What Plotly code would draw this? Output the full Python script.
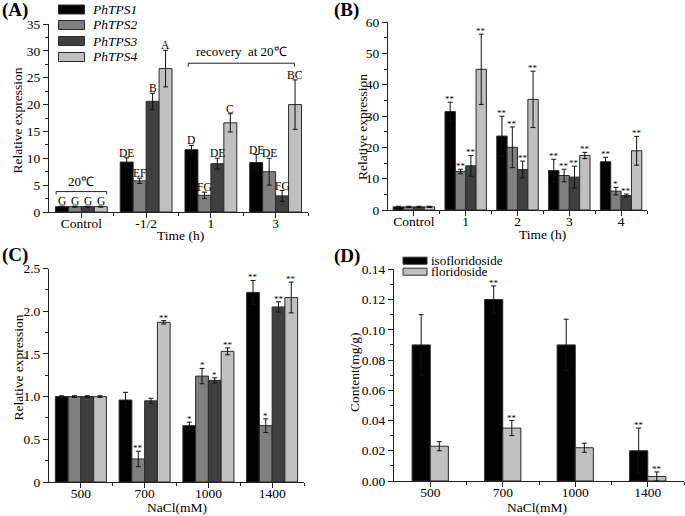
import plotly.graph_objects as go

W, H = 685, 516
FONT = "Liberation Serif, Times New Roman, serif"

# ---------------- data ----------------
genes = ["PhTPS1", "PhTPS2", "PhTPS3", "PhTPS4"]
gene_colors = ["#000000", "#7f7f7f", "#3f3f3f", "#c0c0c0"]

# Panel A
A_cats = ["Control", "-1/2", "1", "3"]
A_TPS1 = [1.0, 9.3, 11.6, 9.2]
A_TPS2 = [1.0, 5.8, 3.1, 7.5]
A_TPS3 = [1.0, 20.6, 9.0, 3.0]
A_TPS4 = [1.0, 26.7, 16.6, 20.0]
A_TPS1_err = [0.1, 0.8, 0.8, 1.5]
A_TPS2_err = [0.1, 0.5, 0.6, 2.5]
A_TPS3_err = [0.1, 1.5, 1.0, 1.0]
A_TPS4_err = [0.1, 3.4, 1.7, 4.6]
A_TPS1_lbl = ["G", "DE", "D", "DE"]
A_TPS2_lbl = ["G", "EF", "FG", "DE"]
A_TPS3_lbl = ["G", "B", "DE", "FG"]
A_TPS4_lbl = ["G", "A", "C", "BC"]

# Panel B
B_cats = ["Control", "1", "2", "3", "4"]
B_TPS1 = [1.0, 31.4, 23.6, 12.6, 15.4]
B_TPS2 = [1.0, 12.3, 20.0, 11.0, 6.0]
B_TPS3 = [1.0, 14.1, 12.9, 10.5, 4.6]
B_TPS4 = [1.0, 44.9, 35.3, 17.4, 18.9]
B_TPS1_err = [0.2, 3.0, 6.3, 3.6, 1.4]
B_TPS2_err = [0.2, 0.7, 6.5, 2.0, 1.2]
B_TPS3_err = [0.2, 3.3, 2.7, 3.5, 0.5]
B_TPS4_err = [0.2, 11.2, 9.0, 1.0, 4.6]
B_TPS1_sig = ["", "**", "**", "**", "**"]
B_TPS2_sig = ["", "**", "**", "**", "*"]
B_TPS3_sig = ["", "**", "**", "**", "**"]
B_TPS4_sig = ["", "**", "**", "**", "**"]

# Panel C
C_cats = ["500", "700", "1000", "1400"]
C_TPS1 = [1.0, 0.96, 0.66, 2.22]
C_TPS2 = [1.0, 0.27, 1.24, 0.66]
C_TPS3 = [1.0, 0.95, 1.19, 2.05]
C_TPS4 = [1.0, 1.87, 1.53, 2.16]
C_TPS1_err = [0.01, 0.09, 0.04, 0.14]
C_TPS2_err = [0.01, 0.09, 0.09, 0.08]
C_TPS3_err = [0.01, 0.03, 0.03, 0.06]
C_TPS4_err = [0.01, 0.02, 0.04, 0.18]
C_TPS1_sig = ["", "", "*", "**"]
C_TPS2_sig = ["", "**", "*", "*"]
C_TPS3_sig = ["", "", "*", "**"]
C_TPS4_sig = ["", "**", "**", "**"]

# Panel D
D_cats = ["500", "700", "1000", "1400"]
D_names = ["isofloridoside", "floridoside"]
D_colors = ["#000000", "#c0c0c0"]
D_iso = [0.090, 0.120, 0.090, 0.020]
D_flo = [0.023, 0.035, 0.022, 0.003]
D_iso_err = [0.020, 0.009, 0.017, 0.015]
D_flo_err = [0.003, 0.005, 0.003, 0.003]
D_iso_sig = ["", "**", "", "**"]
D_flo_sig = ["", "**", "", "**"]


def px(x):
    return x / W


def py(y):
    return 1 - y / H


fig = go.Figure()
annotations = []
shapes = []


def add_group(ax, cats, vals, errs, labels, colors, names, width, lblsize, lblshift):
    n = len(vals)
    xr = "x" if ax == 1 else f"x{ax}"
    yr = "y" if ax == 1 else f"y{ax}"
    for i in range(n):
        shift = -width * n / 2 + i * width + width / 2
        xs = [k + shift for k in range(len(cats))]
        fig.add_trace(go.Bar(
            x=xs, y=vals[i], width=width,
            marker=dict(color=colors[i], line=dict(color="#2a2a2a", width=1)),
            error_y=dict(type="data", array=errs[i], color="#111111", thickness=1, width=2.5),
            name=names[i], xaxis=xr, yaxis=yr, showlegend=False,
        ))
        for j in range(len(cats)):
            if labels[i][j]:
                annotations.append(dict(
                    x=xs[j], y=vals[i][j] + errs[i][j],
                    xref=xr, yref=yr, text=labels[i][j], showarrow=False,
                    xanchor="center", yanchor="bottom", yshift=lblshift,
                    font=dict(family=FONT, size=lblsize, color="black"),
                ))


add_group(1, A_cats, [A_TPS1, A_TPS2, A_TPS3, A_TPS4],
          [A_TPS1_err, A_TPS2_err, A_TPS3_err, A_TPS4_err],
          [A_TPS1_lbl, A_TPS2_lbl, A_TPS3_lbl, A_TPS4_lbl],
          gene_colors, genes, 0.2, 11.5, -3)
add_group(2, B_cats, [B_TPS1, B_TPS2, B_TPS3, B_TPS4],
          [B_TPS1_err, B_TPS2_err, B_TPS3_err, B_TPS4_err],
          [B_TPS1_sig, B_TPS2_sig, B_TPS3_sig, B_TPS4_sig],
          gene_colors, genes, 0.2, 9, -4)
add_group(3, C_cats, [C_TPS1, C_TPS2, C_TPS3, C_TPS4],
          [C_TPS1_err, C_TPS2_err, C_TPS3_err, C_TPS4_err],
          [C_TPS1_sig, C_TPS2_sig, C_TPS3_sig, C_TPS4_sig],
          gene_colors, genes, 0.2, 9, -4)
add_group(4, D_cats, [D_iso, D_flo], [D_iso_err, D_flo_err],
          [D_iso_sig, D_flo_sig], D_colors, D_names, 0.25, 9, -4)

LINE = "#222222"
tickfont = dict(family=FONT, size=13.5, color="black")


def xaxis(domain, anchor, n, cats):
    return dict(
        domain=domain, anchor=anchor, range=[-0.5, n - 0.5],
        tickmode="array", tickvals=list(range(n)), ticktext=cats,
        showline=True, linecolor=LINE, linewidth=1, mirror=False,
        ticks="outside", ticklen=5, tickwidth=1, tickcolor=LINE,
        ticklabelstandoff=-6,
        tickfont=tickfont, showgrid=False, zeroline=False, automargin=False,
        minor=dict(tickmode="array", tickvals=[k + 0.5 for k in range(n)],
                   ticks="outside", ticklen=3, tickwidth=1, tickcolor=LINE, showgrid=False),
        fixedrange=True,
    )


def yaxis(domain, anchor, rng, dtick, minor_dtick, tickvals=None, ticktext=None):
    d = dict(
        domain=domain, anchor=anchor, range=rng,
        showline=True, linecolor=LINE, linewidth=1,
        ticks="outside", ticklen=5, tickwidth=1, tickcolor=LINE,
        tickfont=tickfont, showgrid=False, zeroline=False, automargin=False,
        minor=dict(dtick=minor_dtick, ticks="outside", ticklen=3, tickwidth=1,
                   tickcolor=LINE, showgrid=False),
        fixedrange=True,
    )
    if tickvals is not None:
        d.update(tickmode="array", tickvals=tickvals, ticktext=ticktext)
    else:
        d.update(dtick=dtick, tick0=0)
    return d


fig.update_layout(
    width=W, height=H, autosize=False,
    margin=dict(l=0, r=0, t=0, b=0),
    paper_bgcolor="white", plot_bgcolor="rgba(0,0,0,0)",
    barmode="overlay", showlegend=False,
    font=dict(family=FONT, color="black"),
    xaxis=xaxis([px(49), px(308)], "y", len(A_cats), A_cats),
    yaxis=yaxis([py(212), py(24)], "x", [0, 35], 5, 2.5),
    xaxis2=xaxis([px(388), px(647)], "y2", len(B_cats), B_cats),
    yaxis2=yaxis([py(210), py(22)], "x2", [0, 60], 10, 5),
    xaxis3=xaxis([px(49), px(304)], "y3", len(C_cats), C_cats),
    yaxis3=yaxis([py(482), py(268.5)], "x3", [0, 2.5], 0.5, 0.25,
                 tickvals=[0, 0.5, 1.0, 1.5, 2.0, 2.5],
                 ticktext=["0", "0.5", "1.0", "1.5", "2.0", "2.5"]),
    xaxis4=xaxis([px(394), px(684)], "y4", len(D_cats), D_cats),
    yaxis4=yaxis([py(481), py(269.3)], "x4", [0, 0.14], 0.02, 0.01,
                 tickvals=[0, 0.02, 0.04, 0.06, 0.08, 0.10, 0.12, 0.14],
                 ticktext=["0.00", "0.02", "0.04", "0.06", "0.08", "0.10", "0.12", "0.14"]),
)


def paper_text(x, y, text, size, **kw):
    d = dict(x=px(x), y=py(y), xref="paper", yref="paper", text=text, showarrow=False,
             font=dict(family=FONT, size=size, color="black"))
    d.update(kw)
    annotations.append(d)


# panel labels
paper_text(0, 10, "<b>(A)</b>", 19, xanchor="left", yanchor="middle")
paper_text(332, 10, "<b>(B)</b>", 19, xanchor="left", yanchor="middle")
paper_text(0, 255, "<b>(C)</b>", 19, xanchor="left", yanchor="middle")
paper_text(332, 256, "<b>(D)</b>", 19, xanchor="left", yanchor="middle")

# axis titles
paper_text(17.5, 121, "Relative expression", 13.5, textangle=-90, xanchor="center", yanchor="middle")
paper_text(362, 127, "Relative expression", 13.5, textangle=-90, xanchor="center", yanchor="middle")
paper_text(17.5, 368, "Relative expression", 13.5, textangle=-90, xanchor="center", yanchor="middle")
paper_text(354, 372, "Content(mg/g)", 13.5, textangle=-90, xanchor="center", yanchor="middle")
paper_text(180, 236, "Time (h)", 13.5, xanchor="center", yanchor="middle")
paper_text(542, 235, "Time (h)", 13.5, xanchor="center", yanchor="middle")
paper_text(177, 507, "NaCl(mM)", 13.5, xanchor="center", yanchor="middle")
paper_text(537, 507, "NaCl(mM)", 13.5, xanchor="center", yanchor="middle")

# legend A
leg_rows = [9.5, 25, 41, 57]
for name, col, yc in zip(genes, gene_colors, leg_rows):
    shapes.append(dict(type="rect", xref="paper", yref="paper",
                       x0=px(58.5), x1=px(84.5), y0=py(yc + 4.5), y1=py(yc - 4.5),
                       fillcolor=col, line=dict(color="#2a2a2a", width=1)))
    paper_text(90, yc, f"<i>{name}</i>", 13.5, xanchor="left", yanchor="middle")

# legend D
for name, col, yc in zip(D_names, D_colors, [260.7, 271.7]):
    shapes.append(dict(type="rect", xref="paper", yref="paper",
                       x0=px(403), x1=px(427), y0=py(yc + 3.5), y1=py(yc - 3.5),
                       fillcolor=col, line=dict(color="#2a2a2a", width=1)))
    paper_text(429, yc, name, 13, xanchor="left", yanchor="middle")


# brackets in panel A
def bracket(x0, x1, y, ydrop):
    for seg in [(x0, y, x1, y), (x0, y, x0, y - ydrop), (x1, y, x1, y - ydrop)]:
        shapes.append(dict(type="line", xref="x", yref="y",
                           x0=seg[0], y0=seg[1], x1=seg[2], y1=seg[3],
                           line=dict(color="#222222", width=1)))


bracket(-0.39, 0.39, 3.8, 0.5)
annotations.append(dict(x=0, y=5.7, xref="x", yref="y", text="20℃", showarrow=False,
                        font=dict(family=FONT, size=13, color="black"),
                        xanchor="center", yanchor="middle"))
bracket(1.65, 3.29, 27.7, 0.65)
annotations.append(dict(x=2.47, y=29.9, xref="x", yref="y", text="recovery  at 20℃",
                        showarrow=False, font=dict(family=FONT, size=13, color="black"),
                        xanchor="center", yanchor="middle"))

fig.update_layout(annotations=annotations, shapes=shapes)
fig.write_html(
    "out.html",
    config={"displayModeBar": False},
    post_script="document.body.style.margin='0';document.body.style.padding='0';",
)
